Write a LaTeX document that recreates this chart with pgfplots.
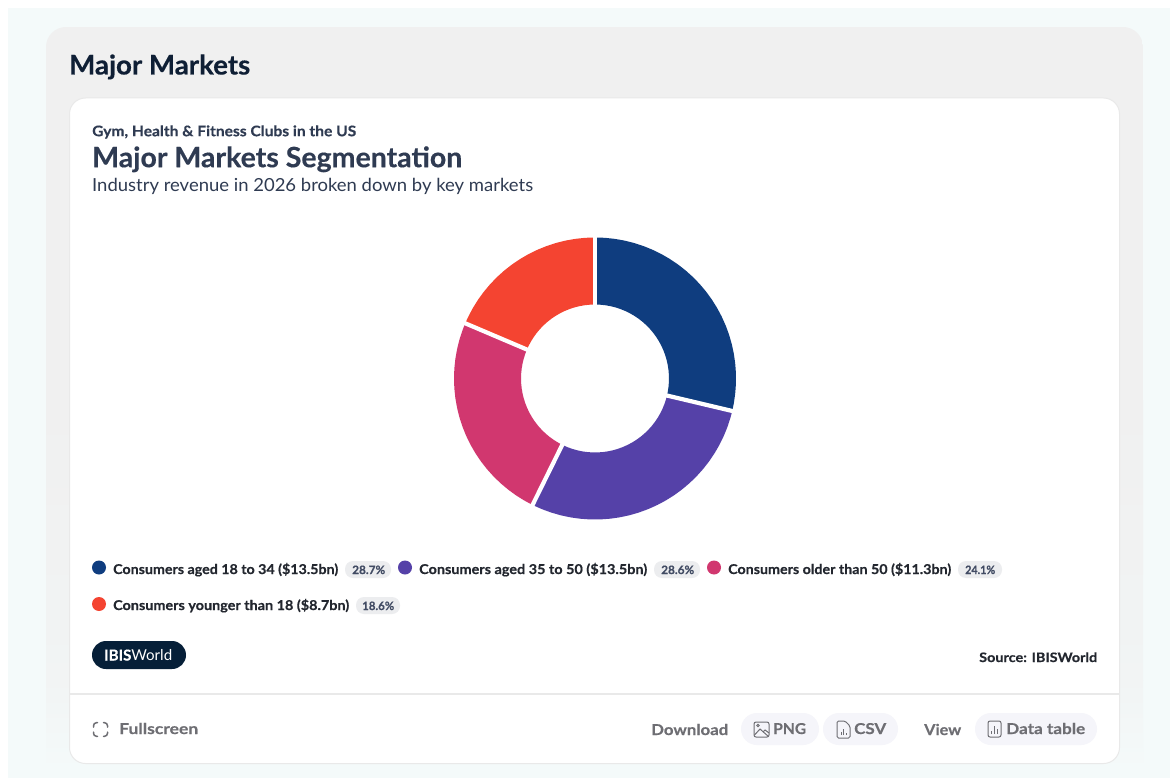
\documentclass[border=0pt]{standalone}
\usepackage{pgfplots}
\pgfplotsset{compat=1.18}
\usepackage{graphicx}
\usepackage{fontspec}
\setmainfont[BoldFeatures={FakeBold=0.4}]{Lato}
\definecolor{mint}{HTML}{F4FAFA}
\definecolor{panelgrey}{HTML}{F0F0F0}
\definecolor{cardline}{HTML}{E9E9E9}
\definecolor{ink}{HTML}{0F1F35}
\definecolor{slate}{HTML}{2F3B52}
\definecolor{legendink}{HTML}{23272F}
\definecolor{badge}{HTML}{ECEDEF}
\definecolor{badgeink}{HTML}{414B63}
\definecolor{btn}{HTML}{F5F5FA}
\definecolor{mute}{HTML}{6E6E73}
\definecolor{navy}{HTML}{0F3D7F}
\definecolor{violet}{HTML}{5541A8}
\definecolor{rose}{HTML}{D1376F}
\definecolor{tomato}{HTML}{F44431}
\definecolor{logo}{HTML}{061F38}
\newsavebox\tbox
% #1 x, #2 baseline y, #3 set width, #4 font size, #5 colour, #6 weight, #7 text
\newcommand\T[7]{%
  \node[anchor=base west,inner sep=0pt] at (#1,#2) {%
    \sbox\tbox{\fontsize{#4}{#4}\selectfont\color{#5}#6{}#7}%
    \pgfmathsetmacro\tratio{#3/(\the\wd\tbox)}%
    \scalebox{\tratio}[1]{\usebox\tbox}};%
}
\newcommand\Badge[3]{%
  \fill[badge,rounded corners=8pt] (#1,#2-8.5) rectangle (#1+#3,#2+8.5);%
}
\begin{document}
\begin{tikzpicture}[x=1pt,y=-1pt]
\useasboundingbox (0,0) rectangle (1170,778);
% page, panel and card
\fill[white] (0,0) rectangle (1170,778);
\fill[mint] (8,8) rectangle (1170,778);
\begin{scope}
  \clip[rounded corners=20pt] (46,27) rectangle (1143,820);
  \fill[panelgrey] (46,27) rectangle (1143,400);
  \shade[top color=panelgrey,bottom color=panelgrey!60!mint] (46,400) rectangle (1143,680);
  \shade[top color=panelgrey!60!mint,bottom color=mint] (46,680) rectangle (1143,770);
\end{scope}
\draw[cardline,fill=white,line width=1pt,rounded corners=16pt] (69.5,98) rectangle (1119.5,763.5);
\draw[cardline,line width=1.2pt] (70,694) -- (1119,694);

% headings
\T{69}{74.5}{181}{27}{ink}{\bfseries}{Major Markets}
\T{92}{136.2}{264}{14.5}{slate}{\bfseries}{Gym, Health \& Fitness Clubs in the US}
\T{92}{167.2}{370}{28}{slate}{\bfseries}{Major Markets Segmentation}
\T{92}{191.2}{441}{18}{slate}{}{Industry revenue in 2026 broken down by key markets}

% legend
\fill[navy] (99,567.5) circle (7);
\T{113}{574}{225}{13.5}{legendink}{\bfseries}{Consumers aged 18 to 34 (\$13.5bn)}
\Badge{345}{569.5}{46}
\T{352}{574}{33}{11.5}{badgeink}{\bfseries}{28.7\%}
\fill[violet] (405,567.5) circle (7);
\T{419}{574}{228}{13.5}{legendink}{\bfseries}{Consumers aged 35 to 50 (\$13.5bn)}
\Badge{654}{569.5}{46}
\T{661}{574}{33}{11.5}{badgeink}{\bfseries}{28.6\%}
\fill[rose] (714,567.5) circle (7);
\T{728}{574}{223}{13.5}{legendink}{\bfseries}{Consumers older than 50 (\$11.3bn)}
\Badge{958}{569.5}{44}
\T{965}{574}{30}{11.5}{badgeink}{\bfseries}{24.1\%}
\fill[tomato] (99,604) circle (7);
\T{113}{610}{236}{13.5}{legendink}{\bfseries}{Consumers younger than 18 (\$8.7bn)}
\Badge{356}{605.5}{44}
\T{362}{610}{32}{11.5}{badgeink}{\bfseries}{18.6\%}

% brand and source
\fill[logo,rounded corners=14pt] (92,641) rectangle (186,669);
\T{104}{660.5}{68}{15}{white}{}{{\bfseries IBIS}World}
\T{979}{662}{118}{13}{legendink}{\bfseries}{Source: IBISWorld}

% toolbar
\begin{scope}[mute,line width=1.5pt,line cap=round,rounded corners=3pt]
  \draw (93.5,727) -- (93.5,722.7) -- (97.5,722.7);
  \draw (103.5,722.7) -- (107.5,722.7) -- (107.5,727);
  \draw (107.5,732) -- (107.5,736.3) -- (103.5,736.3);
  \draw (97.5,736.3) -- (93.5,736.3) -- (93.5,732);
\end{scope}
\T{119}{734}{79}{15}{mute}{\bfseries}{Fullscreen}
\T{651}{735}{77}{15}{mute}{\bfseries}{Download}
\fill[btn,rounded corners=16pt] (741,713) rectangle (819,745);
\draw[mute,line width=1pt,rounded corners=2pt] (754,722) rectangle (769,737);
\draw[mute,line width=1pt] (754.5,735) -- (760,729) -- (768.5,736.5) (763,732) -- (765,730) -- (769,733);
\draw[mute,line width=.8pt] (758,725.5) circle (1.3);
\T{773}{734}{33}{15}{mute}{\bfseries}{PNG}
\fill[btn,rounded corners=16pt] (823,713) rectangle (898,745);
\draw[mute,line width=1pt,rounded corners=1.5pt] (837,721) -- (845,721) -- (850,726) -- (850,738) -- (837,738) -- cycle;
\draw[mute,line width=1pt] (841,735) -- (841,732) (843.5,735) -- (843.5,729) (846,735) -- (846,733);
\T{854}{734}{32}{15}{mute}{\bfseries}{CSV}
\T{924}{735}{37}{15}{mute}{\bfseries}{View}
\fill[btn,rounded corners=16pt] (975,713) rectangle (1097,745);
\draw[mute,line width=1pt,rounded corners=2pt] (988,721) rectangle (1001,737);
\draw[mute,line width=1pt] (991.5,734) -- (991.5,731) (994.5,734) -- (994.5,726) (997.5,734) -- (997.5,729);
\T{1006}{734}{79}{15}{mute}{\bfseries}{Data table}

% revenue shares, clockwise from twelve o'clock: 28.7, 28.6, 24.1, 18.6 per cent
\begin{axis}[
  at={(0pt,-778pt)},anchor=south west,
  x=1pt,y=1pt,
  xmin=-595,xmax=575,ymin=-399.5,ymax=378.5,
  hide axis,clip=false,
  data cs=polar,
  every axis plot/.append style={no markers,line cap=butt,line join=round},
]
\addplot[navy,line width=67pt] coordinates {
 (90,107.5)(89.5,107.5)(89,107.5)(86,107.5)(82,107.5)(78,107.5)(74,107.5)(70,107.5)(66,107.5)(62,107.5)(58,107.5)(54,107.5)(50,107.5)
 (46,107.5)(42,107.5)(38,107.5)(34,107.5)(30,107.5)(26,107.5)(22,107.5)(18,107.5)(14,107.5)(10,107.5)(6,107.5)(2,107.5)
 (-2,107.5)(-6,107.5)(-10,107.5)(-12.8,107.5)(-13.32,107.5)};
\addplot[violet,line width=67pt] coordinates {
 (-13.32,107.5)(-13.8,107.5)(-16,107.5)(-20,107.5)(-24,107.5)(-28,107.5)(-32,107.5)(-36,107.5)(-40,107.5)(-44,107.5)(-48,107.5)(-52,107.5)
 (-56,107.5)(-60,107.5)(-64,107.5)(-68,107.5)(-72,107.5)(-76,107.5)(-80,107.5)(-84,107.5)(-88,107.5)(-92,107.5)(-96,107.5)
 (-100,107.5)(-104,107.5)(-108,107.5)(-112,107.5)(-115.8,107.5)(-116.28,107.5)};
\addplot[rose,line width=67pt] coordinates {
 (-116.28,107.5)(-116.8,107.5)(-120,107.5)(-124,107.5)(-128,107.5)(-132,107.5)(-136,107.5)(-140,107.5)(-144,107.5)(-148,107.5)(-152,107.5)
 (-156,107.5)(-160,107.5)(-164,107.5)(-168,107.5)(-172,107.5)(-176,107.5)(-180,107.5)(-184,107.5)(-188,107.5)(-192,107.5)
 (-196,107.5)(-200,107.5)(-202.5,107.5)(-203.04,107.5)};
\addplot[tomato,line width=67pt] coordinates {
 (-203.04,107.5)(-203.5,107.5)(-206,107.5)(-210,107.5)(-214,107.5)(-218,107.5)(-222,107.5)(-226,107.5)(-230,107.5)(-234,107.5)(-238,107.5)
 (-242,107.5)(-246,107.5)(-250,107.5)(-254,107.5)(-258,107.5)(-262,107.5)(-266,107.5)(-269.5,107.5)(-270,107.5)};
% white separators on the slice boundaries
\addplot[white,line width=4.2pt] coordinates {(90,70)(90,145)};
\addplot[white,line width=4.2pt] coordinates {(-13.32,70)(-13.32,145)};
\addplot[white,line width=4.2pt] coordinates {(-116.28,70)(-116.28,145)};
\addplot[white,line width=4.2pt] coordinates {(-203.04,70)(-203.04,145)};
\end{axis}
\end{tikzpicture}
\end{document}
